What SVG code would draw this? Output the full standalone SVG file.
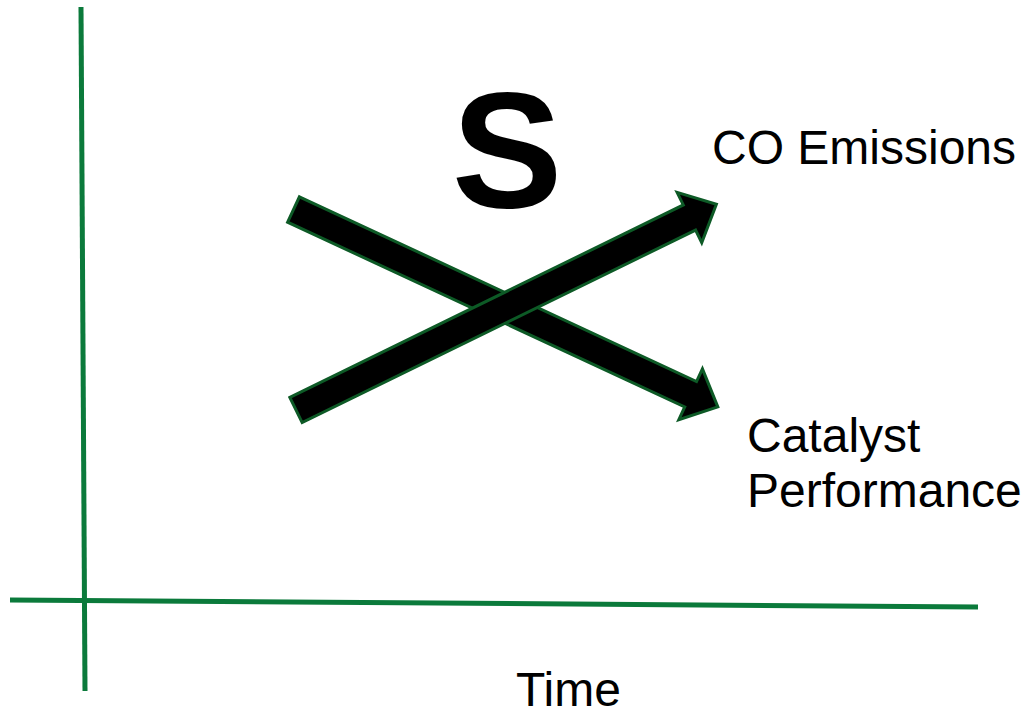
<svg xmlns="http://www.w3.org/2000/svg" width="1025" height="715" viewBox="0 0 1025 715">
  <style>
    .axis { stroke: #0b7a3b; stroke-width: 5; fill: none; }
    .arrow { fill: #000; stroke: #0d5a26; stroke-width: 3; stroke-linejoin: miter; }
    .label { font-family: "Liberation Sans", Arial, sans-serif; font-size: 48px; fill: #000; }
    .big { font-family: "Liberation Sans", Arial, sans-serif; font-size: 166px; font-weight: bold; fill: #000; }
  </style>
  <defs>
    <!-- block arrow along +x, length 468 -->
    <polygon id="blockArrow" points="0,-14 438,-14 438,-28 468,0 438,28 438,14 0,14"/>
  </defs>
  <rect width="1025" height="715" fill="#fff"/>

  <g id="axes">
    <line class="axis" x1="81" y1="7" x2="85" y2="691"/>
    <line class="axis" x1="10" y1="600" x2="978" y2="607"/>
  </g>

  <g id="connectors">
    <use href="#blockArrow" class="arrow" transform="translate(293.5,209.5) rotate(24.95)"/>
    <use href="#blockArrow" class="arrow" transform="translate(296,410) rotate(-26.07)"/>
  </g>

  <g id="symbol-s">
    <text class="big" x="507" y="207" text-anchor="middle">S</text>
  </g>
  <g id="label-co">
    <text class="label" x="712" y="164">CO Emissions</text>
  </g>
  <g id="label-catalyst">
    <text class="label" x="747" y="452">Catalyst</text>
    <text class="label" x="747" y="507">Performance</text>
  </g>
  <g id="label-time">
    <text class="label" x="516" y="706">Time</text>
  </g>
</svg>
